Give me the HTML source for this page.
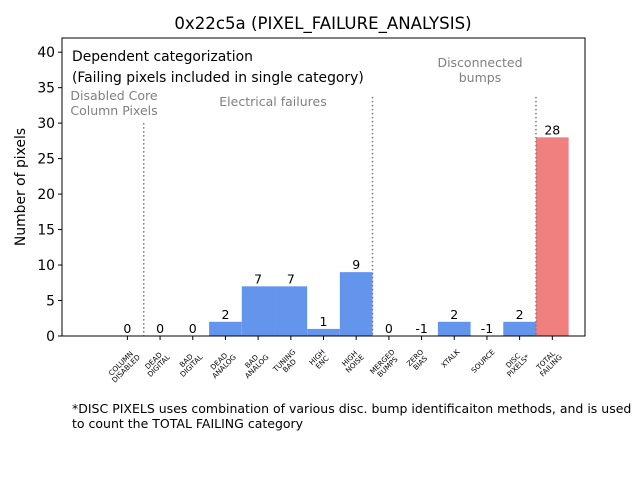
<!DOCTYPE html>
<html><head><meta charset="utf-8"><style>body{margin:0;background:#fff}svg{display:block;font-family:"DejaVu Sans","Liberation Sans",sans-serif}</style></head>
<body>
<svg id="chart" width="640" height="480">
<defs><clipPath id="plotclip"><rect x="62" y="38" width="523" height="298"/></clipPath></defs>
<text x="323" y="29" font-size="16.6" text-anchor="middle">0x22c5a (PIXEL_FAILURE_ANALYSIS)</text>
<g id="bars" clip-path="url(#plotclip)"></g>
<g id="annots"></g>
<rect x="62" y="38" width="523" height="298" fill="none" stroke="#000" stroke-width="1"/>
<g id="axes"></g>
<text x="25" y="187" font-size="13.9" text-anchor="middle" transform="rotate(-90 25 187)">Number of pixels</text>
<text x="72" y="61" font-size="13.9">Dependent categorization</text>
<text x="72" y="82" font-size="13.9">(Failing pixels included in single category)</text>
<text x="72" y="413" font-size="12.5">*DISC PIXELS uses combination of various disc. bump identificaiton methods, and is used</text>
<text x="72" y="428" font-size="12.5">to count the TOTAL FAILING category</text>
</svg>
<script>
const categories = [["COLUMN","DISABLED"],["DEAD","DIGITAL"],["BAD","DIGITAL"],["DEAD","ANALOG"],["BAD","ANALOG"],["TUNING","BAD"],["HIGH","ENC"],["HIGH","NOISE"],["MERGED","BUMPS"],["ZERO","BIAS"],["XTALK"],["SOURCE"],["DISC","PIXELS*"],["TOTAL","FAILING"]];
const values = [0,0,0,2,7,7,1,9,0,-1,2,-1,2,28];
const yTicks = [0,5,10,15,20,25,30,35,40];
const groupLabels = [["Disabled Core","Column Pixels"],["Electrical failures"],["Disconnected","bumps"]];
const dividers = [0.5,7.5,12.5];
const dividerTops = [30,33.7,33.7];

const NS="http://www.w3.org/2000/svg";
const X0=62,X1=585,Y0=336,Y1=38,xmin=-2,xmax=14,ymin=0,ymax=42;
const xs=i=>X0+(i-xmin)/(xmax-xmin)*(X1-X0);
const ys=v=>Y0-(v-ymin)/(ymax-ymin)*(Y0-Y1);
const bw=(X1-X0)/(xmax-xmin);
function mk(t,a,p){const e=document.createElementNS(NS,t);for(const k in a)e.setAttribute(k,a[k]);p.appendChild(e);return e;}
const bars=document.getElementById('bars'),ann=document.getElementById('annots'),axes=document.getElementById('axes');
values.forEach((v,i)=>{
  const top=ys(Math.max(v,0)),bot=ys(Math.min(v,0));
  const r=mk('rect',{x:xs(i)-bw/2,y:top,width:bw,height:Math.max(bot-top,0),fill:i===values.length-1?'#F08080':'#6495ED'},bars);
  
  
  const t=mk('text',{x:xs(i),y:ys(Math.max(v,0))-3,'font-size':12.5,'text-anchor':'middle'},ann);
  t.textContent=v;
  
  
});
dividers.forEach((d,k)=>{
  const l=mk('line',{x1:xs(d),x2:xs(d),y1:ys(dividerTops[k]),y2:Y0,stroke:'#777','stroke-width':1.5,'stroke-dasharray':'1.5,2.5'},ann);
  
  
});
const gpos=[[114,100],[273,106],[480,67]];
groupLabels.forEach((g,k)=>{
  g.forEach((s,j)=>{
    const t=mk('text',{x:gpos[k][0],y:gpos[k][1]+j*15,'font-size':12.5,'text-anchor':'middle',fill:'#808080'},ann);
    t.textContent=s;
    
    
  });
});
yTicks.forEach(v=>{
  mk('line',{x1:X0-4,x2:X0,y1:ys(v),y2:ys(v),stroke:'#000'},axes);
  const t=mk('text',{x:X0-7,y:ys(v)+5,'font-size':13.9,'text-anchor':'end'},axes);
  t.textContent=v;
  
  
});
const fs=7.2, lh=7.3;
categories.forEach((c,i)=>{
  const x=xs(i);
  mk('line',{x1:x,x2:x,y1:Y0,y2:Y0+4,stroke:'#000'},axes);
  const g=mk('g',{},axes);
  
  
  const n=c.length;
  let w=0;
  c.forEach((s,j)=>{
    const t=mk('text',{x:0,y:(j-(n-1)/2)*lh+fs*0.35,'font-size':fs,'text-anchor':'middle','textLength':null},g);
    t.removeAttribute('textLength');
    t.textContent=s;
    w=Math.max(w,t.getComputedTextLength());
  });
  const h=n*lh;
  const half=(w+h)*Math.SQRT1_2/2;
  g.setAttribute('transform',`translate(${x-4},${Y0+12+half}) rotate(-45)`);
});
</script>
</body></html>
